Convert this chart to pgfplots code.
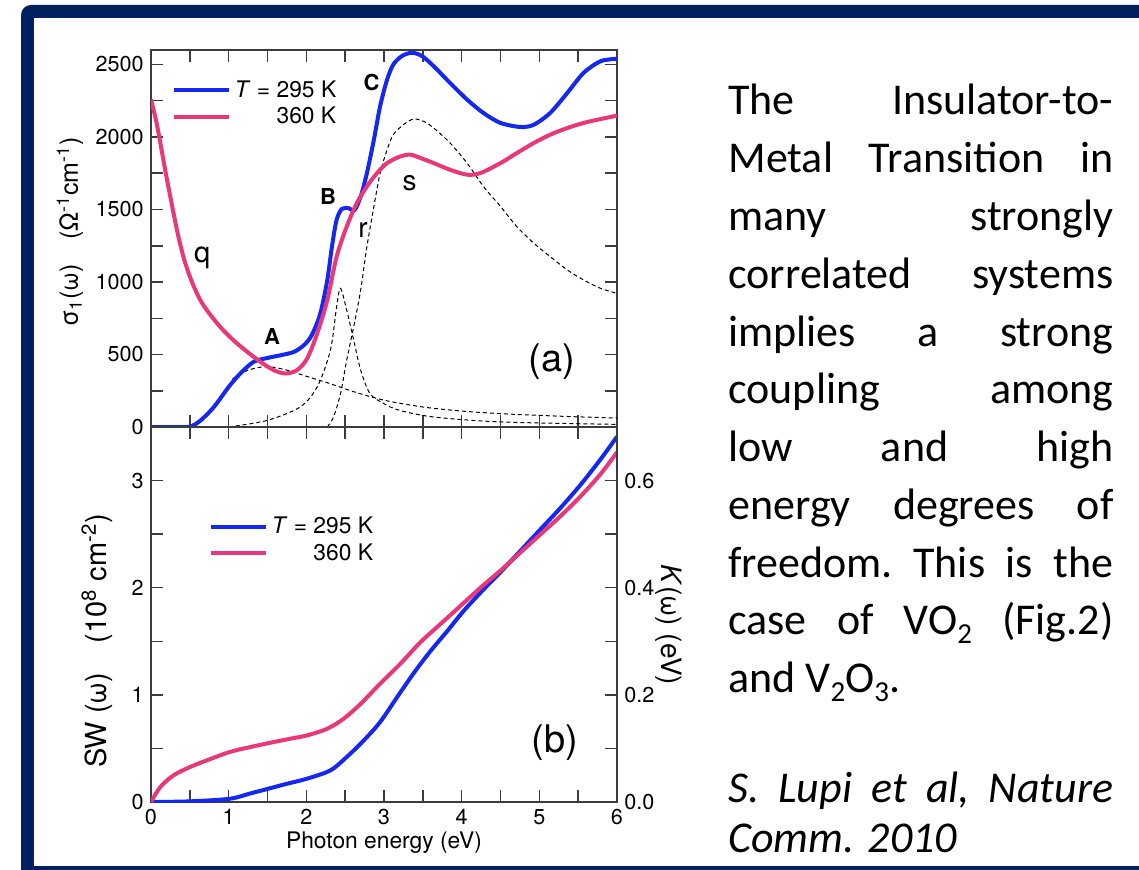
\documentclass[border=0pt]{standalone}
\usepackage{fontspec}
\setmainfont{TeX Gyre Heros}
\newfontfamily\calibri{Carlito}
\usepackage{pgfplots}
\pgfplotsset{compat=1.18}

\definecolor{cblue}{RGB}{20,40,240}
\definecolor{cpink}{RGB}{232,56,122}
\definecolor{navy}{RGB}{0,32,96}
\definecolor{axgray}{RGB}{60,60,60}

\pgfplotsset{
  panel/.style={
    scale only axis, width=233pt,
    xmin=0, xmax=6, xtick={0,...,6}, minor x tick num=1,
    tick align=inside, major tick length=6pt, minor tick length=6pt,
    line width=0.75pt, draw=axgray,
    tick style={axgray, line width=0.75pt},
    tick label style={font=\fontsize{10.8}{12}\selectfont},
    /pgf/number format/assume math mode=true,
    /pgf/number format/1000 sep={},
  },
  leg/.style={
    legend style={draw=none, fill=none, font=\fontsize{11.4}{13}\selectfont,
      row sep=-0.5pt, /tikz/every even column/.append style={column sep=4pt}},
    legend cell align=right,
    legend image code/.code={\draw[##1] (0pt,0pt) -- (27.5pt,0pt);},
  },
  t295/.style={cblue, line width=2pt, smooth},
  t360/.style={cpink, line width=2pt, smooth},
  fit/.style={black, line width=0.5pt, dash pattern=on 2pt off 1.5pt, smooth, forget plot},
}

\newcommand\tl[2]{\node[anchor=base west, inner sep=0pt] at (364pt,#1) {\hbox to 192.5pt{#2}};}
\newcommand\sub[1]{\raisebox{-4.5pt}{\fontsize{14.5}{0}\selectfont #1}}

\begin{document}
\begin{tikzpicture}
\useasboundingbox (0,0) rectangle (569.5pt,434.5pt);
\fill[white] (0,0) rectangle (569.5pt,434.5pt);
\fill[navy, rounded corners=5pt] (10.5pt,-20pt) rectangle (620pt,432pt);
\fill[white] (17pt,1.5pt) rectangle (620pt,425.5pt);

% panel (a): optical conductivity
\begin{axis}[panel, leg, at={(75.5pt,221pt)}, anchor=south west, height=188.5pt,
  ymin=0, ymax=2600, ytick={0,500,...,2500}, minor y tick num=1, xticklabels={},
  ylabel={σ\textsubscript{1}(ω)\quad(Ω\textsuperscript{-1}cm\textsuperscript{-1})},
  ylabel style={font=\fontsize{12.5}{14}\selectfont, at={(axis description cs:-0.174,0.517)}, anchor=center},
  legend style={at={(axis description cs:0.03,0.942)}, anchor=north west}]
\addplot[fit] coordinates {(1.05,330) (1.15,370) (1.3,400) (1.45,415) (1.6,410) (1.8,385) (2.0,350) (2.3,300) (2.6,245) (3.0,185) (3.5,138) (4.0,110) (4.5,92) (5.0,80) (5.5,70) (6.0,62)};
\addplot[fit] coordinates {(1.0,0) (1.5,46) (1.92,138) (2.14,276) (2.31,530) (2.39,830) (2.44,956) (2.52,806) (2.61,599) (2.70,392) (2.82,230) (3.0,161) (3.2,115) (3.64,69) (4.5,35) (6.0,18)};
\addplot[fit] coordinates {(2.27,0) (2.35,69) (2.44,230) (2.52,461) (2.61,691) (2.70,945) (2.78,1244) (2.87,1521) (2.95,1751) (3.04,1912) (3.12,2016) (3.25,2085) (3.38,2124) (3.51,2108) (3.64,2062) (3.85,1959) (4.07,1820) (4.28,1659) (4.50,1521) (4.71,1382) (4.93,1267) (5.14,1175) (5.36,1083) (5.57,1014) (5.79,956) (6.0,922)};
\addplot[t295] coordinates {(0,0) (0.3,0) (0.5,2) (0.64,46) (0.81,138) (1.0,276) (1.15,369) (1.32,449) (1.49,475) (1.67,495) (1.84,518) (1.97,565) (2.07,634) (2.18,783) (2.27,1014) (2.33,1244) (2.39,1429) (2.46,1505) (2.55,1508) (2.62,1495) (2.70,1590) (2.78,1751) (2.87,1982) (2.95,2212) (3.04,2396) (3.12,2500) (3.23,2558) (3.36,2581) (3.49,2558) (3.64,2488) (3.85,2373) (4.07,2258) (4.28,2166) (4.50,2097) (4.76,2069) (4.93,2085) (5.14,2166) (5.36,2304) (5.57,2442) (5.79,2523) (6.0,2539)};
\addlegendentry{\textit{T} = 295 K}
\addplot[t360] coordinates {(0,2258) (0.05,2150) (0.10,2020) (0.18,1780) (0.27,1530) (0.35,1320) (0.43,1150) (0.52,1010) (0.62,890) (0.72,805) (0.89,691) (1.06,599) (1.24,518) (1.41,449) (1.58,392) (1.73,369) (1.88,392) (2.01,472) (2.14,645) (2.27,876) (2.39,1175) (2.52,1382) (2.65,1544) (2.78,1659) (2.91,1751) (3.04,1820) (3.21,1866) (3.34,1878) (3.47,1855) (3.64,1820) (3.85,1774) (4.07,1740) (4.24,1751) (4.50,1820) (4.71,1889) (4.93,1959) (5.14,2016) (5.36,2062) (5.57,2097) (5.79,2124) (6.0,2147)};
\addlegendentry{360 K}
\node[font=\fontsize{11}{13}\selectfont\bfseries] at (axis cs:1.56,622) {A};
\node[font=\fontsize{11}{13}\selectfont\bfseries] at (axis cs:2.28,1588) {B};
\node[font=\fontsize{11}{13}\selectfont\bfseries] at (axis cs:2.84,2376) {C};
\node[font=\fontsize{14.5}{16}\selectfont] at (axis cs:0.66,1170) {q};
\node[font=\fontsize{14}{16}\selectfont] at (axis cs:2.73,1360) {r};
\node[font=\fontsize{14}{16}\selectfont] at (axis cs:3.33,1685) {s};
\node[font=\fontsize{19}{21}\selectfont] at (axis cs:5.16,450) {(a)};
\end{axis}

% panel (b): spectral weight
\begin{axis}[panel, leg, at={(75.5pt,33.5pt)}, anchor=south west, height=187.5pt,
  ymin=0, ymax=3.5, ytick={0,1,2,3}, minor y tick num=1, ytick pos=left,
  xlabel={Photon energy (eV)},
  xlabel style={font=\fontsize{11.4}{13}\selectfont, at={(axis description cs:0.5,-0.109)}, anchor=center},
  ylabel={SW (ω)\quad(10\textsuperscript{8} cm\textsuperscript{-2})},
  ylabel style={font=\fontsize{14.5}{16}\selectfont, at={(axis description cs:-0.116,0.43)}, anchor=center},
  legend style={at={(axis description cs:0.109,0.784)}, anchor=north west}]
\addplot[t295] coordinates {(0,0) (0.5,0.006) (1.01,0.03) (1.28,0.08) (1.51,0.124) (1.75,0.17) (2.01,0.218) (2.31,0.295) (2.52,0.42) (2.74,0.575) (2.95,0.746) (3.17,0.98) (3.39,1.21) (3.6,1.41) (3.82,1.60) (4.03,1.787) (4.29,1.99) (4.5,2.145) (4.76,2.347) (5.02,2.549) (5.28,2.751) (5.54,2.969) (5.79,3.20) (6.0,3.41)};
\addlegendentry{\textit{T} = 295 K}
\addplot[t360] coordinates {(0,0) (0.12,0.14) (0.29,0.249) (0.5,0.326) (0.72,0.389) (1.01,0.466) (1.28,0.513) (1.58,0.56) (1.84,0.597) (2.01,0.622) (2.27,0.684) (2.48,0.777) (2.7,0.917) (2.95,1.104) (3.21,1.29) (3.47,1.492) (3.73,1.663) (3.99,1.834) (4.25,2.005) (4.5,2.16) (4.76,2.331) (5.02,2.502) (5.28,2.673) (5.54,2.86) (5.79,3.062) (6.0,3.264)};
\addlegendentry{360 K}
\node[font=\fontsize{19}{21}\selectfont] at (axis cs:5.2,0.557) {(b)};
\end{axis}

% right-hand scale of panel (b)
\begin{axis}[panel, at={(75.5pt,33.5pt)}, anchor=south west, height=187.5pt,
  axis x line=none, axis y line*=right,
  ymin=0, ymax=0.7, ytick={0,0.2,0.4,0.6}, minor y tick num=1,
  yticklabel style={/pgf/number format/fixed, /pgf/number format/fixed zerofill, /pgf/number format/precision=1},
  ylabel={\textit{K}(ω) (eV)},
  ylabel style={font=\fontsize{14}{16}\selectfont, at={(axis description cs:1.112,0.472)}, anchor=center, rotate=180}]
\addplot[draw=none, forget plot] coordinates {(0,0) (6,0.7)};
\end{axis}

% text block
\calibri\fontsize{22}{29}\selectfont
\tl{377pt}{The\hfill Insulator-to-}
\tl{348.125pt}{Metal\hfill Transition\hfill in}
\tl{319.25pt}{many\hfill strongly}
\tl{290.375pt}{correlated\hfill systems}
\tl{261.5pt}{implies\hfill a\hfill strong}
\tl{232.625pt}{coupling\hfill among}
\tl{203.75pt}{low\hfill and\hfill high}
\tl{174.875pt}{energy\hfill degrees\hfill of}
\tl{146pt}{freedom.\hfill This\hfill is\hfill the}
\tl{117.125pt}{case\hfill of\hfill VO\sub{2}\hfill (Fig.2)}
\tl{88.25pt}{and V\sub{2}O\sub{3}.\hfill}
\tl{33.5pt}{\itshape S.\hfill Lupi\hfill et\hfill al,\hfill Nature}
\tl{8.5pt}{\itshape Comm. 2010\hfill}
\end{tikzpicture}
\end{document}
